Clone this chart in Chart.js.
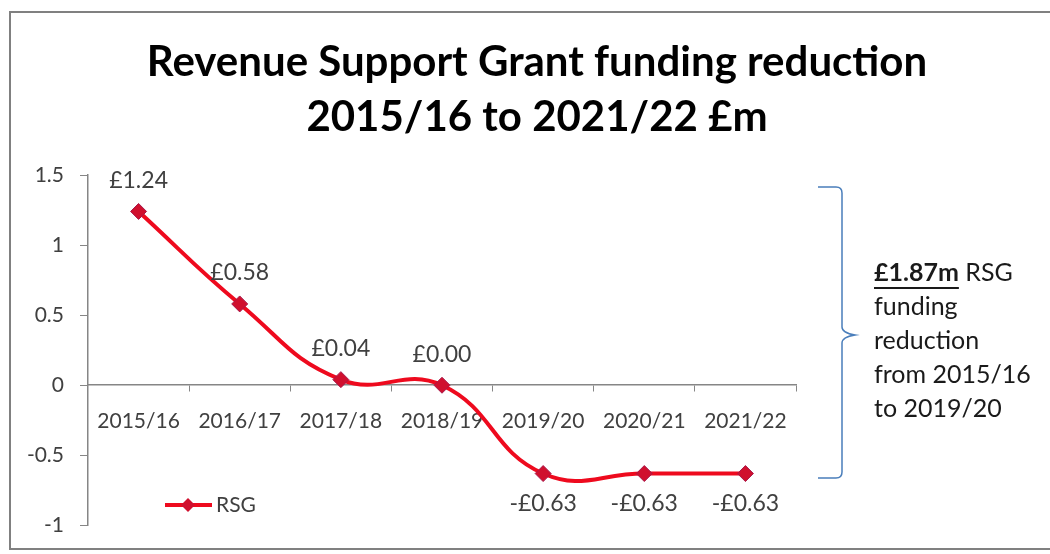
<!DOCTYPE html>
<html>
<head>
<meta charset="utf-8">
<script src="https://cdn.jsdelivr.net/npm/chart.js@4"></script>
<style>
html,body{margin:0;padding:0;background:#fff}
#grafico{display:block}
</style>
</head>
<body>
<canvas id="grafico" width="1050" height="554"></canvas>
<script>
let anos=['2015/16','2016/17','2017/18','2018/19','2019/20','2020/21','2021/22']
let rsg=[1.24,0.58,0.04,0.00,-0.63,-0.63,-0.63]
let rotulos=['£1.24','£0.58','£0.04','£0.00','-£0.63','-£0.63','-£0.63']
let titulo=['Revenue Support Grant funding reduction','2015/16 to 2021/22 £m']
let destaque='£1.87m'
let nota=['funding','reduction','from 2015/16','to 2019/20']

let fonte='Lato, "Open Sans", sans-serif'
let cinza='#404040'

// desenha titulo, moldura, rotulos, legenda e chave
let extras={
id:'extras',
afterDraw(chart){
let c=chart.ctx
c.save()

// moldura
c.strokeStyle='#808080'
c.lineWidth=2
c.strokeRect(10,12,1050,537)

// titulo
c.fillStyle='#000'
c.font=`bold 42px ${fonte}`
c.textAlign='center'
c.textBaseline='middle'
c.fillText(titulo[0],537,62)
c.fillText(titulo[1],537,117)

// rotulos dos pontos
let meta=chart.getDatasetMeta(0)
c.font=`23px ${fonte}`
c.fillStyle=cinza
meta.data.forEach((p,i)=>{
let dy=rsg[i]>=0?-31:30
c.fillText(rotulos[i],p.x,p.y+dy)
})

// legenda
c.strokeStyle='#ee0a1e'
c.lineWidth=4
c.beginPath()
c.moveTo(165,505)
c.lineTo(212,505)
c.stroke()
c.fillStyle='#d0102e'
c.beginPath()
c.moveTo(188,498)
c.lineTo(195,505)
c.lineTo(188,512)
c.lineTo(181,505)
c.closePath()
c.fill()
c.fillStyle=cinza
c.textAlign='left'
c.font=`21px ${fonte}`
c.fillText('RSG',216,505)

// chave
c.strokeStyle='#4a7ebb'
c.lineWidth=1.5
c.beginPath()
c.moveTo(818,187)
c.lineTo(836,187)
c.quadraticCurveTo(842,187,842,193)
c.lineTo(842,327)
c.quadraticCurveTo(842,333,855,335)
c.quadraticCurveTo(842,337,842,343)
c.lineTo(842,472)
c.quadraticCurveTo(842,478,836,478)
c.lineTo(818,478)
c.stroke()

// nota
c.fillStyle='#1a1a1a'
c.font=`bold 25px ${fonte}`
c.fillText(destaque,874,273)
let w=c.measureText(destaque).width
c.fillRect(874,287,w,2)
c.font=`25px ${fonte}`
c.fillText(' RSG',874+w,273)
nota.forEach((t,i)=>{
c.fillText(t,874,307+i*34)
})

c.restore()
}
}

let ctx=document.getElementById('grafico')

new Chart(ctx,{
type:'line',
data:{
labels:anos,
datasets:[{
label:'RSG',
data:rsg,
borderColor:'#ee0a1e',
borderWidth:4,
tension:0.45,
pointStyle:'rectRot',
pointRadius:8,
pointHoverRadius:8,
pointBackgroundColor:'#d0102e',
pointBorderColor:'#a8184a',
pointBorderWidth:1
}]
},
options:{
responsive:false,
animation:false,
layout:{
padding:{left:28,right:254,top:175,bottom:22}
},
plugins:{
legend:{display:false},
title:{display:false},
tooltip:{enabled:false}
},
scales:{
x:{
position:{y:0},
offset:true,
afterFit(s){s.height=0},
grid:{
offset:true,
drawOnChartArea:false,
drawTicks:true,
tickLength:6,
color:'#868686'
},
border:{display:true,color:'#868686',width:1.5},
ticks:{
color:cinza,
padding:17,
font:{family:fonte,size:21}
}
},
y:{
min:-1,
max:1.5,
afterFit(s){s.width=60},
grid:{
drawOnChartArea:false,
drawTicks:true,
tickLength:8,
color:'#868686'
},
border:{display:true,color:'#868686',width:1.5},
ticks:{
stepSize:0.5,
color:cinza,
padding:16,
font:{family:fonte,size:21},
callback:v=>String(v)
}
}
}
},
plugins:[extras]
})
</script>
</body>
</html>
